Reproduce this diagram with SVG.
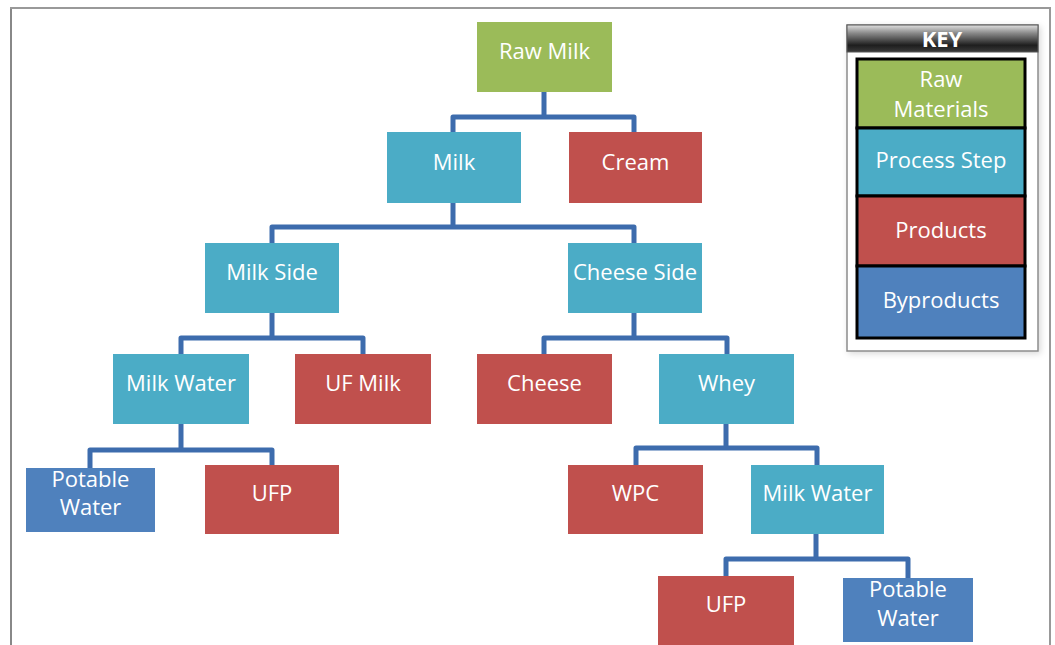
<svg xmlns="http://www.w3.org/2000/svg" width="1055" height="645" viewBox="0 0 1055 645">
<style>
.n{stroke:none}
.g{fill:#9bbb59}.t{fill:#4bacc6}.r{fill:#c0504d}.b{fill:#4f81bd}
text{font-family:"Open Sans","Liberation Sans",sans-serif;font-size:22px;fill:#ffffff;text-anchor:middle}
.c{fill:none;stroke:#3d6cad;stroke-width:5;stroke-linejoin:round;stroke-linecap:butt}
.k{stroke:#000;stroke-width:3}
</style>
<defs>
<linearGradient id="hdr" x1="0" y1="0" x2="0" y2="1">
<stop offset="0" stop-color="#e0e0e0"/>
<stop offset="0.3" stop-color="#8a8a8a"/>
<stop offset="0.75" stop-color="#1e1e1e"/>
<stop offset="1" stop-color="#3a3a3a"/>
</linearGradient>
<filter id="sh" x="-10%" y="-10%" width="130%" height="130%">
<feDropShadow dx="2" dy="2" stdDeviation="3" flood-color="#000" flood-opacity="0.15"/>
</filter>
</defs>
<rect width="1055" height="645" fill="#ffffff"/>
<path d="M11,645 V8 H1050 V645" fill="none" stroke="#999" stroke-width="2"/>
<line x1="11" y1="9" x2="11" y2="645" stroke="#888" stroke-width="2"/>

<g id="connectors">
<path class="c" d="M544,92 V117 M453,132 V117 H634 V132"/>
<path class="c" d="M453,203 V227 M272,243 V227 H634 V243"/>
<path class="c" d="M272,313 V338 M181,354 V338 H363 V354"/>
<path class="c" d="M634,313 V338 M544,354 V338 H727 V354"/>
<path class="c" d="M181,424 V450 M90,468 V450 H272 V465"/>
<path class="c" d="M726,424 V448 M636,465 V448 H817 V465"/>
<path class="c" d="M816,534 V559 M726,576 V559 H908 V578"/>
</g>

<g id="raw-milk"><rect class="g" x="477" y="22" width="135" height="70"/><text x="544.5" y="59">Raw Milk</text></g>
<g id="milk"><rect class="t" x="387" y="132" width="134" height="71"/><text x="454" y="170">Milk</text></g>
<g id="cream"><rect class="r" x="569" y="132" width="133" height="71"/><text x="635.5" y="170">Cream</text></g>
<g id="milk-side"><rect class="t" x="205" y="243" width="134" height="70"/><text x="272" y="280">Milk Side</text></g>
<g id="cheese-side"><rect class="t" x="568" y="243" width="134" height="70"/><text x="635" y="280">Cheese Side</text></g>
<g id="milk-water-1"><rect class="t" x="113" y="354" width="136" height="70"/><text x="181" y="391">Milk Water</text></g>
<g id="uf-milk"><rect class="r" x="295" y="354" width="136" height="70"/><text x="363" y="391">UF Milk</text></g>
<g id="cheese"><rect class="r" x="477" y="354" width="135" height="70"/><text x="544.5" y="391">Cheese</text></g>
<g id="whey"><rect class="t" x="659" y="354" width="135" height="70"/><text x="726.5" y="391">Whey</text></g>
<g id="potable-water-1"><rect class="b" x="26" y="468" width="129" height="64"/><text x="90.5" y="487">Potable</text><text x="90.5" y="515">Water</text></g>
<g id="ufp-1"><rect class="r" x="205" y="465" width="134" height="69"/><text x="272" y="501">UFP</text></g>
<g id="wpc"><rect class="r" x="568" y="465" width="135" height="69"/><text x="635.5" y="501">WPC</text></g>
<g id="milk-water-2"><rect class="t" x="751" y="465" width="133" height="69"/><text x="817.5" y="501">Milk Water</text></g>
<g id="ufp-2"><rect class="r" x="658" y="576" width="136" height="75"/><text x="726" y="612">UFP</text></g>
<g id="potable-water-2"><rect class="b" x="843" y="578" width="130" height="64"/><text x="908" y="597">Potable</text><text x="908" y="626">Water</text></g>

<g id="key">
<rect x="847" y="25" width="191" height="326" fill="#ffffff" stroke="#8c8c8c" stroke-width="1.5" filter="url(#sh)"/>
<rect x="847" y="25" width="191" height="27" fill="url(#hdr)" stroke="#555" stroke-width="1"/>
<text x="942" y="47" style="font-weight:bold;font-size:22px">KEY</text>
<rect x="856" y="58" width="170" height="281" fill="#000"/>
<rect class="g k" x="857" y="59" width="168" height="69"/>
<rect class="t k" x="857" y="128" width="168" height="68"/>
<rect class="r k" x="857" y="196" width="168" height="70"/>
<rect class="b k" x="857" y="266" width="168" height="72"/>
<text x="941" y="87">Raw</text>
<text x="941" y="117">Materials</text>
<text x="941" y="168">Process Step</text>
<text x="941" y="238">Products</text>
<text x="941" y="308">Byproducts</text>
</g>
</svg>
